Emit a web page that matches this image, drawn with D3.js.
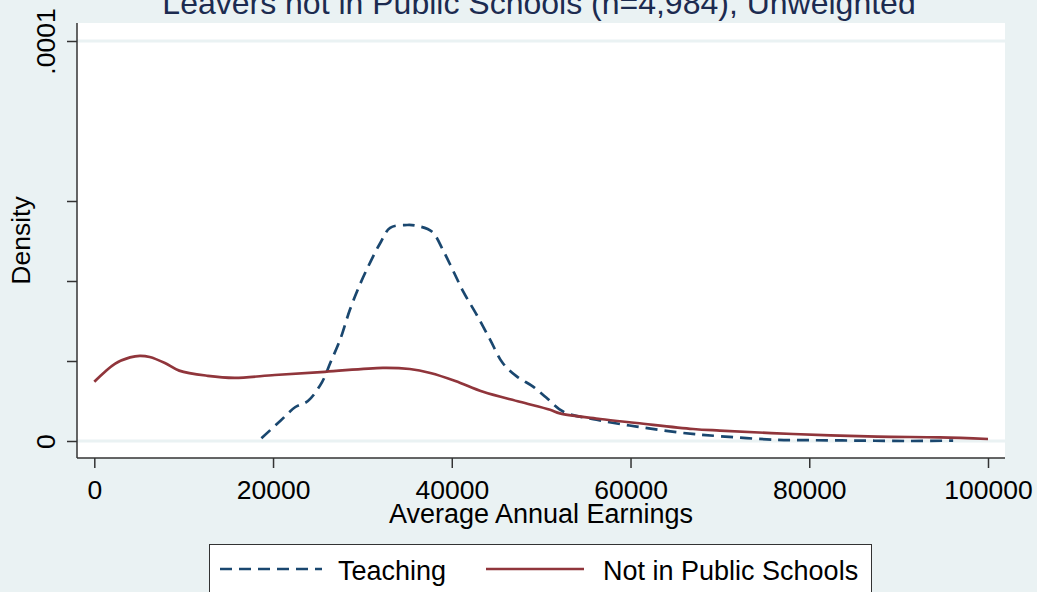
<!DOCTYPE html>
<html>
<head>
<meta charset="utf-8">
<script src="https://cdn.jsdelivr.net/npm/d3@7"></script>
<style>
  body { margin: 0; background: #eaf2f3; }
  svg { display: block; font-family: "Liberation Sans", Arial, sans-serif; }
</style>
</head>
<body>
<div id="chart"></div>
<script>
// Kernel density curves (density in units of 1e-5)
const teachingEarnings = [18700, 20800, 22500, 23900, 25500, 26400, 27500, 28600, 29700, 30900, 32000, 33100, 35000, 36100, 37800, 39000, 40100, 41300, 42800, 44300, 45700, 47300, 49100, 50600, 52500, 56200, 60700, 65500, 70000, 76400, 80000, 85700, 91300, 96100];
const teachingDensity = [0.07, 0.50, 0.85, 1.00, 1.48, 1.95, 2.53, 3.28, 3.90, 4.48, 4.95, 5.33, 5.40, 5.38, 5.23, 4.78, 4.28, 3.73, 3.15, 2.53, 1.95, 1.61, 1.36, 1.08, 0.73, 0.53, 0.36, 0.21, 0.12, 0.03, 0.02, 0.01, 0.0, 0.01];

const npsEarnings = [0, 2300, 4000, 5100, 6200, 7900, 9500, 12700, 15700, 20200, 25800, 32300, 35300, 37600, 40400, 43500, 47600, 51000, 52100, 56600, 60700, 67000, 70000, 78200, 87600, 94600, 100000];
const npsDensity = [1.48, 1.93, 2.09, 2.13, 2.10, 1.95, 1.76, 1.63, 1.58, 1.65, 1.73, 1.83, 1.80, 1.70, 1.50, 1.23, 0.98, 0.78, 0.69, 0.55, 0.45, 0.30, 0.26, 0.175, 0.11, 0.09, 0.05];

const xTicks = [0, 20000, 40000, 60000, 80000, 100000];
const yTicks = [0, 0.00002, 0.00004, 0.00006, 0.0001];
const yLabels = { 0: "0", 0.0001: ".0001" };

const seriesNames = ["Teaching", "Not in Public Schools"];
const title = "Leavers not in Public Schools (n=4,984), Unweighted";

const width = 1037, height = 592;
const plot = { left: 77, right: 1005, top: 23, bottom: 458 };
const blue = "#1a476f", red = "#90353b";

const svg = d3.select("#chart").append("svg")
  .attr("width", width)
  .attr("height", height);

svg.append("rect").attr("width", width).attr("height", height).attr("fill", "#eaf2f3");

const x = d3.scaleLinear().domain([0, 100000]).range([94.3, 988]);
const y = d3.scaleLinear().domain([0, 0.0001]).range([441, 41]);

// plot region
svg.append("rect")
  .attr("x", plot.left).attr("y", plot.top)
  .attr("width", plot.right - plot.left).attr("height", plot.bottom - plot.top)
  .attr("fill", "#fff");

// gridlines at labelled values
svg.selectAll("line.grid")
  .data([0, 0.0001])
  .enter().append("line")
  .attr("class", "grid")
  .attr("x1", plot.left).attr("x2", plot.right)
  .attr("y1", d => y(d)).attr("y2", d => y(d))
  .attr("stroke", "#eaf2f3")
  .attr("stroke-width", 3);

const line = d3.line()
  .x(d => x(d[0]))
  .y(d => y(d[1] * 1e-5))
  .curve(d3.curveCatmullRom.alpha(0.5));

svg.append("path")
  .datum(d3.zip(teachingEarnings, teachingDensity))
  .attr("d", line)
  .attr("fill", "none")
  .attr("stroke", blue)
  .attr("stroke-width", 2.7)
  .attr("stroke-dasharray", "12,7");

svg.append("path")
  .datum(d3.zip(npsEarnings, npsDensity))
  .attr("d", line)
  .attr("fill", "none")
  .attr("stroke", red)
  .attr("stroke-width", 2.7);

// axes
const xAxis = svg.append("g")
  .attr("transform", `translate(0,${plot.bottom})`)
  .call(d3.axisBottom(x).tickValues(xTicks).tickSize(10).tickSizeOuter(0).tickFormat(d3.format("d")));
xAxis.select(".domain").remove();
xAxis.selectAll(".tick line").attr("stroke", "#333").attr("stroke-width", 1.5);
xAxis.selectAll(".tick text")
  .attr("y", 0).attr("dy", 0)
  .attr("transform", "translate(0,41)")
  .attr("fill", "#000")
  .style("font-size", "26.5px")
  .style("font-family", "'Liberation Sans', Arial, sans-serif");

const yAxis = svg.append("g")
  .attr("transform", `translate(${plot.left},0)`)
  .call(d3.axisLeft(y).tickValues(yTicks).tickSize(10).tickSizeOuter(0).tickFormat(d => yLabels[d] || ""));
yAxis.select(".domain").remove();
yAxis.selectAll(".tick line").attr("stroke", "#333").attr("stroke-width", 1.5);
yAxis.selectAll(".tick text")
  .attr("x", 0).attr("dy", 0)
  .attr("text-anchor", "middle")
  .attr("transform", "translate(-22,0) rotate(-90)")
  .attr("fill", "#000")
  .style("font-size", "26.5px")
  .style("font-family", "'Liberation Sans', Arial, sans-serif");

svg.append("line")
  .attr("x1", plot.left).attr("x2", plot.left)
  .attr("y1", plot.top).attr("y2", plot.bottom)
  .attr("stroke", "#333").attr("stroke-width", 1.5);
svg.append("line")
  .attr("x1", plot.left).attr("x2", plot.right)
  .attr("y1", plot.bottom).attr("y2", plot.bottom)
  .attr("stroke", "#333").attr("stroke-width", 1.5);

// titles
svg.append("text")
  .attr("x", (plot.left + plot.right) / 2).attr("y", 523)
  .attr("text-anchor", "middle")
  .style("font-size", "27px")
  .text("Average Annual Earnings");

svg.append("text")
  .attr("transform", `translate(30,${(plot.top + plot.bottom) / 2}) rotate(-90)`)
  .attr("text-anchor", "middle")
  .style("font-size", "26.5px")
  .text("Density");

svg.append("text")
  .attr("x", 539).attr("y", 13.5)
  .attr("text-anchor", "middle")
  .attr("fill", "#1c2b50")
  .style("font-size", "32px")
  .text(title);

// legend
const legend = svg.append("g");
legend.append("rect")
  .attr("x", 209.5).attr("y", 544.5)
  .attr("width", 662).attr("height", 60)
  .attr("fill", "#fff").attr("stroke", "#333").attr("stroke-width", 1);

const legendItems = [
  { name: seriesNames[0], color: blue, dash: "12,7", x1: 220, x2: 322, tx: 338 },
  { name: seriesNames[1], color: red, dash: null, x1: 486, x2: 584, tx: 603 }
];
legendItems.forEach(d => {
  legend.append("line")
    .attr("x1", d.x1).attr("x2", d.x2)
    .attr("y1", 569).attr("y2", 569)
    .attr("stroke", d.color).attr("stroke-width", 2.7)
    .attr("stroke-dasharray", d.dash);
  legend.append("text")
    .attr("x", d.tx).attr("y", 580)
    .style("font-size", "27px")
    .text(d.name);
});
</script>
</body>
</html>
